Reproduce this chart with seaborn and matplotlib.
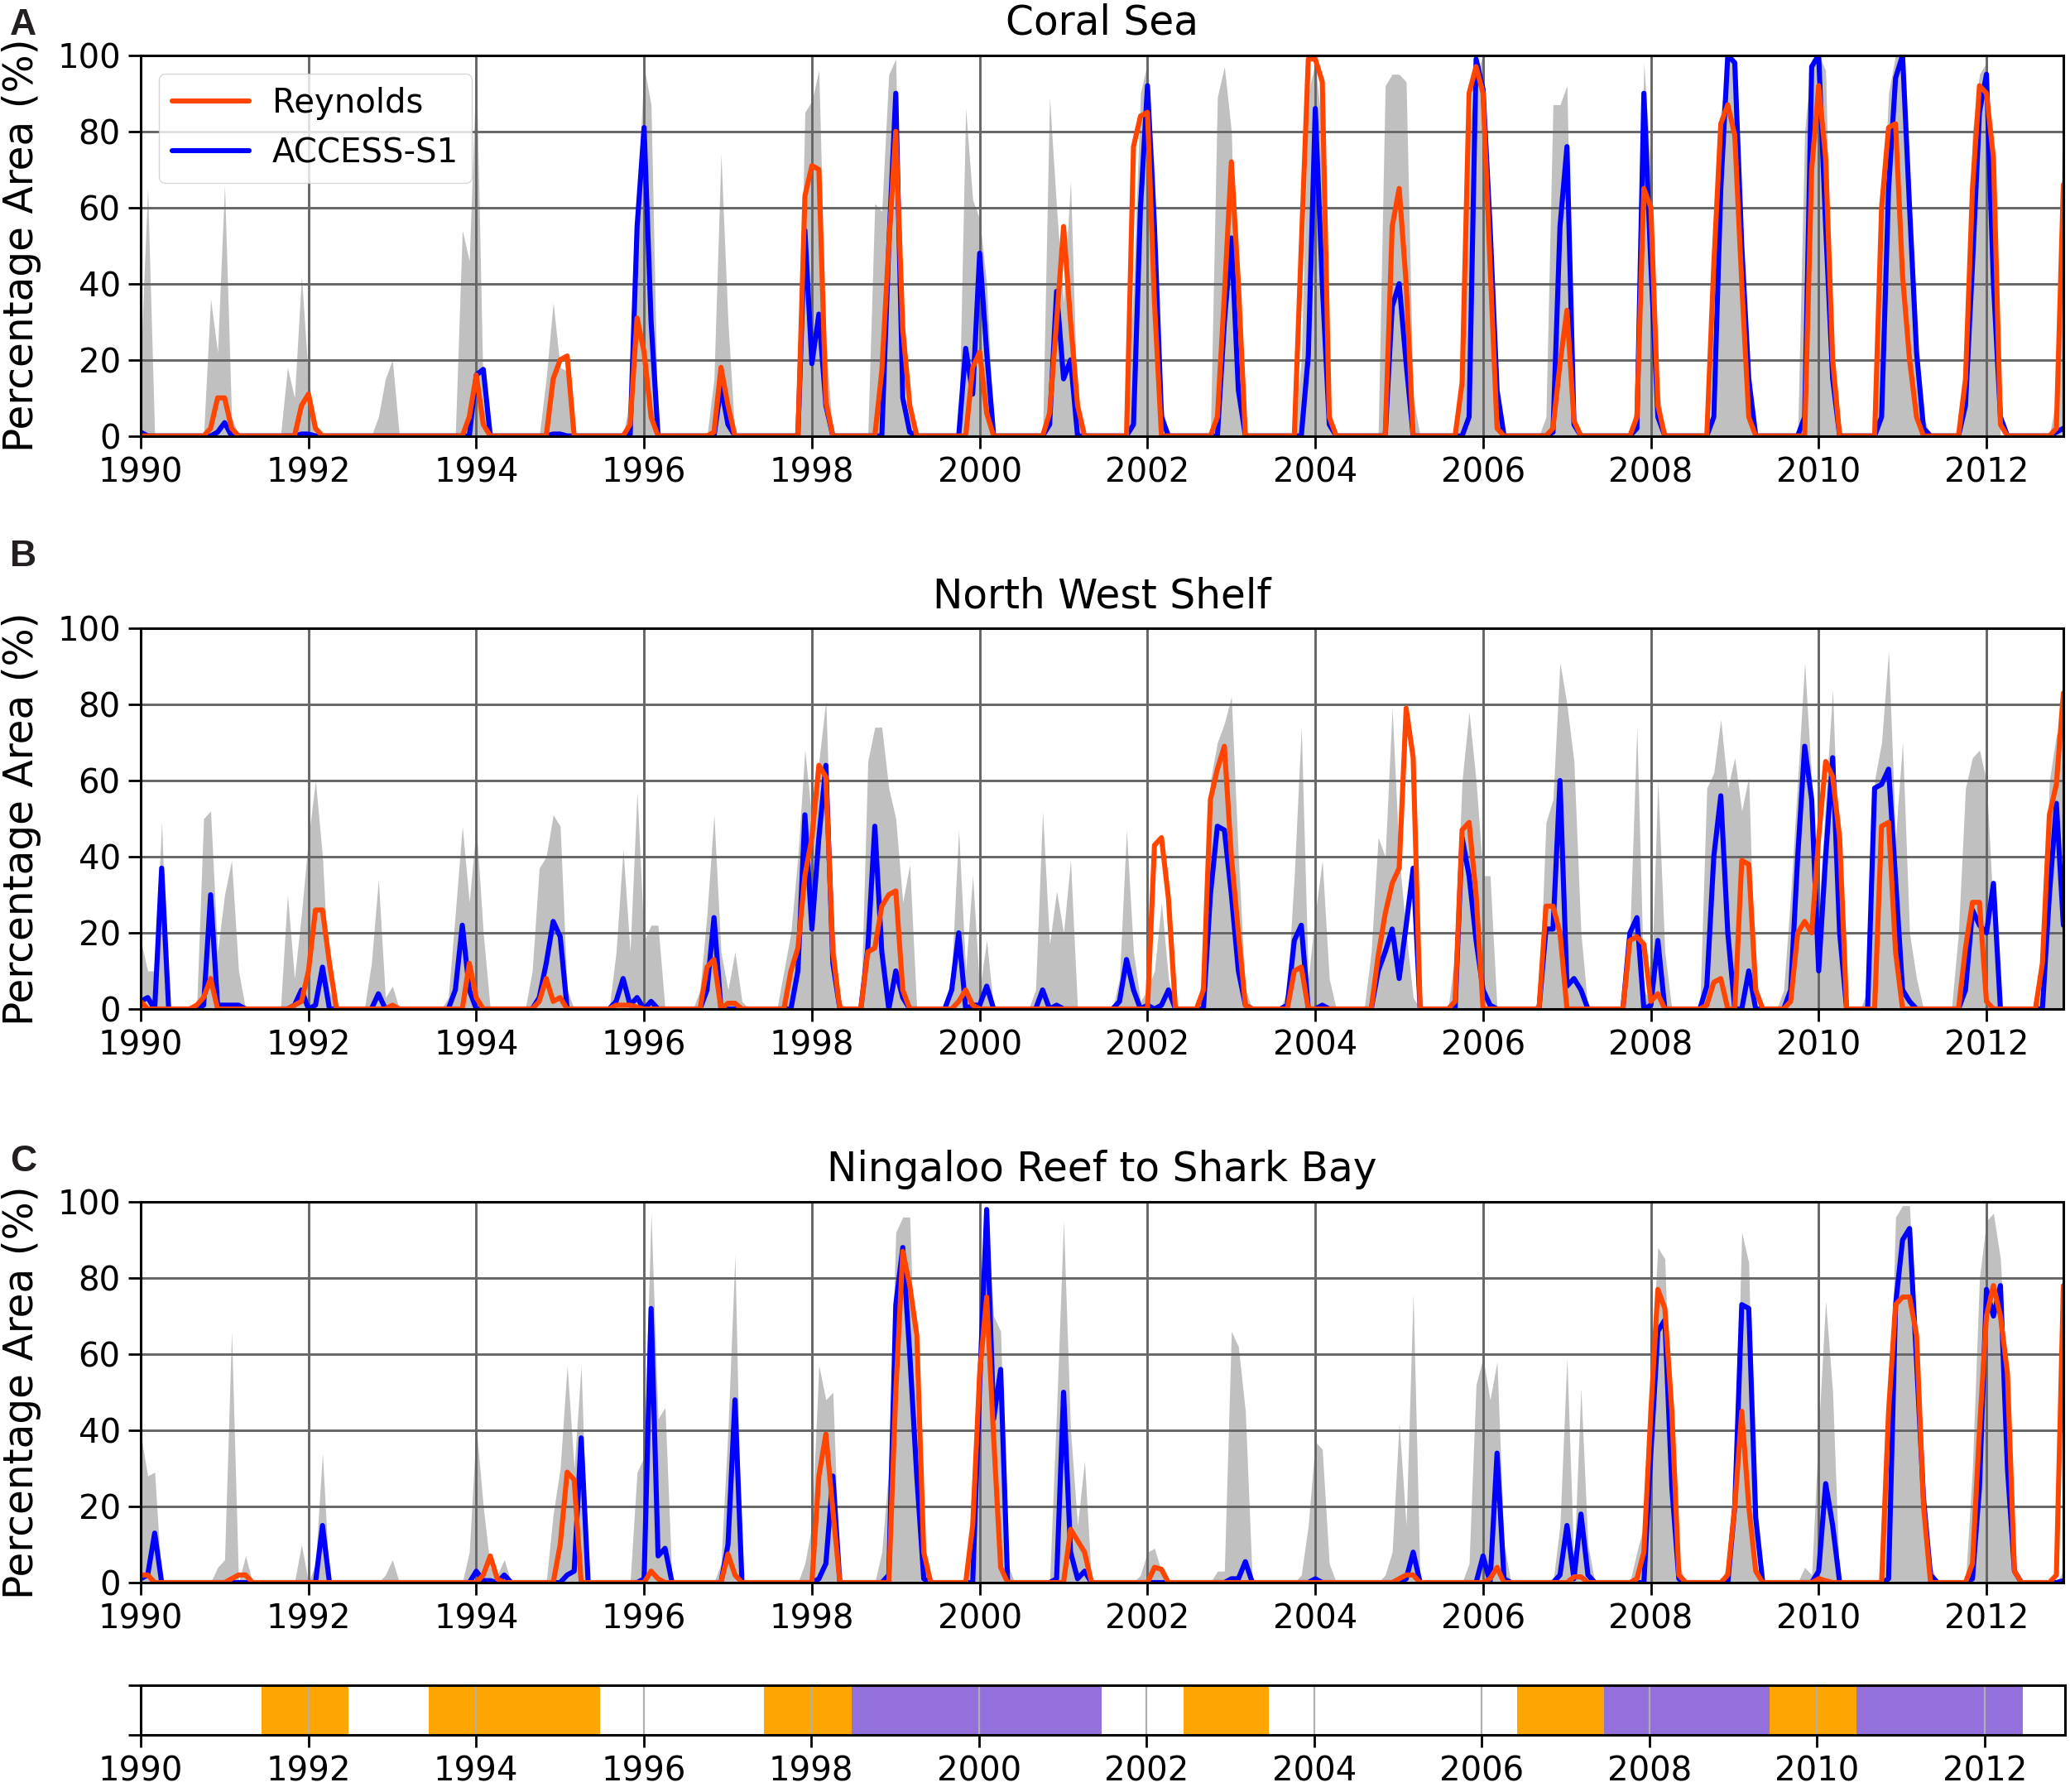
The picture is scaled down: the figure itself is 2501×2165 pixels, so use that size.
import numpy as np
import pandas as pd
import matplotlib
matplotlib.use("Agg")
import matplotlib.pyplot as plt
import seaborn as sns

sns.set_style("ticks")
plt.rcParams["font.family"] = ["DejaVu Sans"]
plt.rcParams["axes.axisbelow"] = "line"
plt.rcParams["text.color"] = "black"
plt.rcParams["axes.labelcolor"] = "black"
plt.rcParams["xtick.color"] = "black"
plt.rcParams["ytick.color"] = "black"
plt.rcParams["axes.edgecolor"] = "black"

# ---------------- data (monthly, Jan 1990 .. Dec 2012, one row per year) -------------
years = list(range(1990, 2013))
titles = ["Coral Sea", "North West Shelf", "Ningaloo Reef to Shark Bay"]
panel_letters = ["A", "B", "C"]

coral_reynolds = [
    [0,0,0,0,0,0,0,0,0,0,2,10], [10,2,0,0,0,0,0,0,0,0,0,8], [11,2,0,0,0,0,0,0,0,0,0,0],
    [0,0,0,0,0,0,0,0,0,0,0,5], [16,3,0,0,0,0,0,0,0,0,0,15], [20,21,0,0,0,0,0,0,0,0,3,31],
    [22,5,0,0,0,0,0,0,0,0,1,18], [8,0,0,0,0,0,0,0,0,0,0,63], [71,70,9,0,0,0,0,0,0,0,17,50],
    [80,28,8,0,0,0,0,0,0,0,0,18], [22,6,0,0,0,0,0,0,0,0,6,30], [55,30,8,0,0,0,0,0,0,0,76,84],
    [85,35,0,0,0,0,0,0,0,0,5,37], [72,40,0,0,0,0,0,0,0,0,50,99], [99,93,5,0,0,0,0,0,0,0,0,55],
    [65,40,0,0,0,0,0,0,0,14,90,97], [90,45,2,0,0,0,0,0,0,0,2,19], [33,4,0,0,0,0,0,0,0,0,5,65],
    [60,8,0,0,0,0,0,0,0,45,82,87], [79,40,5,0,0,0,0,0,0,0,0,70], [92,73,20,0,0,0,0,0,0,60,81,82],
    [42,20,5,0,0,0,0,0,0,15,65,92], [90,73,3,0,0,0,0,0,0,0,2,66],
]
coral_access = [
    [1,0,0,0,0,0,0,0,0,0,0,1], [3.5,0,0,0,0,0,0,0,0,0,0,0.5], [0.5,0,0,0,0,0,0,0,0,0,0,0],
    [0,0,0,0,0,0,0,0,0,0,0,0], [16,17.5,0,0,0,0,0,0,0,0,0,0.5], [0.5,0,0,0,0,0,0,0,0,0,0,55],
    [81,30,0,0,0,0,0,0,0,0,0,13], [3,0,0,0,0,0,0,0,0,0,0,54], [19,32,8,0,0,0,0,0,0,0,0,50],
    [90,10,1,0,0,0,0,0,0,0,23,11], [48,22,0,0,0,0,0,0,0,0,3,38], [15,20,0,0,0,0,0,0,0,0,3,60],
    [92,55,5,0,0,0,0,0,0,0,0,30], [52,12,0,0,0,0,0,0,0,0,0,21], [86,40,3,0,0,0,0,0,0,0,0,34],
    [40,19,0,0,0,0,0,0,0,0,5,99], [91,55,12,0,0,0,0,0,0,0,1,55], [76,3,0,0,0,0,0,0,0,0,2,90],
    [45,5,0,0,0,0,0,0,0,5,65,100], [98,50,15,0,0,0,0,0,0,0,5,97], [100,55,15,0,0,0,0,0,0,5,65,94],
    [100,60,22,2,0,0,0,0,0,8,45,85], [95,40,5,0,0,0,0,0,0,0,1,2],
]
coral_ens_max = [
    [20,65,0,0,0,0,0,0,0,0,36,22], [66,5,0,0,0,0,0,0,0,18,10,42], [15,3,0,0,0,0,0,0,0,0,5,15],
    [20,0,0,0,0,0,0,0,0,0,54,46], [98,10,0,0,0,0,0,0,0,0,15,35], [18,17,0,0,0,0,0,0,0,0,10,60],
    [97,87,0,0,0,0,0,0,0,0,15,74], [30,0,0,0,0,0,0,0,0,0,2,85], [88,96,25,0,0,0,0,0,0,61,59,95],
    [99,10,0,0,0,0,0,0,0,0,86,62], [57,40,0,0,0,0,0,0,0,0,89,60], [35,67,5,0,0,0,0,0,0,0,40,90],
    [98,70,10,0,0,0,0,0,0,0,89,97], [80,15,0,0,0,0,0,0,0,0,20,90], [98,80,5,0,0,0,0,0,0,0,92,95],
    [95,93,10,0,0,0,0,0,0,10,80,95], [100,60,15,0,0,0,0,0,0,5,87,87], [92,5,0,0,0,0,0,0,0,0,10,98],
    [70,15,0,0,0,0,0,0,0,5,85,99], [97,40,5,0,0,0,0,0,0,0,80,99], [100,96,20,0,0,0,0,0,0,50,90,100],
    [100,70,20,5,0,0,0,0,0,20,80,95], [98,30,0,0,0,0,0,0,0,0,10,88],
]

nws_reynolds = [
    [2,0,0,0,0,0,0,0,1,3,8,0], [0,0,0,0,0,0,0,0,0,0,1,2], [10,26,26,12,0,0,0,0,0,0,0,0],
    [1,0,0,0,0,0,0,0,0,0,0,12], [3,0,0,0,0,0,0,0,0,2,8,2], [3,0,0,0,0,0,0,0,1,1,1,0.5],
    [0,0,0,0,0,0,0,0,0,11,13,0], [1.5,1.5,0,0,0,0,0,0,0,10,16,35], [45,64,61,15,0,0,0,0,15,16,27,30],
    [31,5,0,0,0,0,0,0,0,2,5,1], [0,0,0,0,0,0,0,0,0,0,0,0], [0,0,0,0,0,0,0,0,0,0,0,0],
    [0,43,45,29,0,0,0,0,5,55,63,69], [40,20,1,0,0,0,0,0,0,10,11,0], [0,0,0,0,0,0,0,0,0,14,25,33],
    [37,79,66,0,0,0,0,0,2,47,49,30], [0,0,0,0,0,0,0,0,0,27,27,20], [0,0,0,0,0,0,0,0,0,18,19,17],
    [2,4,0,0,0,0,0,0,1,7,8,0], [0,39,38,5,0,0,0,0,2,20,23,20], [45,65,61,45,0,0,0,0,0,48,49,15],
    [0,0,0,0,0,0,0,0,0,16,28,28], [2,0,0,0,0,0,0,0,12,51,59,83],
]
nws_access = [
    [2,3,0,37,0,0,0,0,0,1,30,1], [1,1,1,0,0,0,0,0,0,0,1,5], [0,1,11,0,0,0,0,0,0,0,4,0],
    [0,0,0,0,0,0,0,0,0,5,22,5], [0,0,0,0,0,0,0,0,0,3,12,23], [19,0,0,0,0,0,0,0,2,8,1,3],
    [0,2,0,0,0,0,0,0,0,5,24,0], [0,0,0,0,0,0,0,0,0,0,10,51], [21,45,64,12,0,0,0,0,16,48,15,0],
    [10,3,0,0,0,0,0,0,5,20,0,1], [1,6,0,0,0,0,0,0,0,5,0,1], [0,0,0,0,0,0,0,0,2,13,5,0],
    [1,0,1,5,0,0,0,0,0,30,48,47], [30,10,1,0,0,0,0,0,1,18,22,0], [0,1,0,0,0,0,0,0,0,10,15,21],
    [8,22,37,0,0,0,0,0,0,45,35,18], [5,1,0,0,0,0,0,0,0,21,21,60], [6,8,5,0,0,0,0,0,0,20,24,0],
    [1,18,0,0,0,0,0,0,6,40,56,20], [0,0,10,0,0,0,0,0,5,40,69,55], [10,40,66,20,0,0,0,0,58,59,63,34],
    [5,2,0,0,0,0,0,0,0,5,26,22], [20,33,0,0,0,0,0,0,0,30,54,22],
]
nws_ens_max = [
    [18,10,10,49,0,0,0,0,0,50,52,15], [30,39,10,0,0,0,0,0,0,30,8,25], [45,60,40,5,0,0,0,0,0,12,34,3],
    [6,0,0,0,0,0,0,0,3,25,48,28], [48,20,0,0,0,0,0,0,10,37,40,51], [48,5,0,0,0,0,0,0,15,42,15,57],
    [18,22,22,0,0,0,0,0,5,25,51,15], [5,15,2,0,0,0,0,0,10,20,40,68], [50,65,81,25,2,0,0,0,65,74,74,58],
    [50,28,38,0,0,0,0,0,10,47,10,35], [5,18,0,0,0,0,0,0,5,52,17,31], [20,39,0,0,0,0,0,0,8,47,15,2],
    [5,10,28,8,0,0,0,0,10,60,70,75], [82,40,5,0,0,0,0,0,5,35,74,8], [25,39,8,0,0,0,0,0,15,45,40,79],
    [40,20,3,0,0,0,0,0,15,60,78,60], [35,35,0,0,0,0,0,0,2,49,55,91], [80,65,20,0,0,0,0,0,0,20,74,5],
    [2,60,15,0,0,0,0,0,58,62,76,58], [66,52,61,0,0,0,0,5,30,60,91,60], [25,55,84,30,0,0,0,5,60,70,94,45],
    [70,20,8,0,0,0,0,0,20,58,66,68], [60,25,0,0,0,0,0,0,5,60,72,75],
]

ning_reynolds = [
    [2,2,0,0,0,0,0,0,0,0,0,0], [0,1,2,2,0,0,0,0,0,0,0,0], [0,0,0,0,0,0,0,0,0,0,0,0],
    [0,0,0,0,0,0,0,0,0,0,0,0], [0,2,7,1,0,0,0,0,0,0,0,0], [10,29,27,0,0,0,0,0,0,0,0,0],
    [0,3,1,0,0,0,0,0,0,0,0,0], [7.5,2,0,0,0,0,0,0,0,0,0,0], [0,28,39,19,0,0,0,0,0,0,0,0],
    [50,87,78,65,8,0,0,0,0,0,0,15], [55,75,38,4,0,0,0,0,0,0,0,0], [0,14,11,8,0,0,0,0,0,0,0,0],
    [0,4,3.5,0,0,0,0,0,0,0,0,0], [0,0,0,0,0,0,0,0,0,0,0,0], [0,0,0,0,0,0,0,0,0,0,0,0],
    [1,2,2,0,0,0,0,0,0,0,0,0], [0,1,4,0,0,0,0,0,0,0,0,0], [0,1.5,1.5,0,0,0,0,0,0,0,1,8],
    [45,77,72,45,2,0,0,0,0,0,0,2], [20,45,20,3,0,0,0,0,0,0,0,0], [1,0.5,0,0,0,0,0,0,0,0,45,73],
    [75,75,65,20,0,0,0,0,0,0,5,40], [70,78,70,55,3,0,0,0,0,0,2,78],
]
ning_access = [
    [1,2,13,0,0,0,0,0,0,0,0,0], [0,0,0,0,0,0,0,0,0,0,0,0], [0,0,15,0,0,0,0,0,0,0,0,0],
    [0,0,0,0,0,0,0,0,0,0,0,0], [3,0.5,0.5,0,2,0,0,0,0,0,0,0], [0,2,3,38,0,0,0,0,0,0,0,0],
    [1,72,7,9,0,0,0,0,0,0,0,0], [10,48,0,0,0,0,0,0,0,0,0,0], [0,1,5,28,0,0,0,0,0,0,0,2],
    [73,88,60,28,1,0,0,0,0,0,0,0], [52,98,43,56,0,0,0,0,0,0,0,1], [50,8,1,3,0,0,0,0,0,0,0,0],
    [0,0,0,0,0,0,0,0,0,0,0,0], [1,1,5.5,0,0,0,0,0,0,0,0,0], [1,0,0,0,0,0,0,0,0,0,0,0],
    [0,1,8,0,0,0,0,0,0,0,0,0], [7,0,34,1,0,0,0,0,0,0,0,2], [15,1,18,2,0,0,0,0,0,0,0,0],
    [34,66,69,25,1,0,0,0,0,0,0,0], [20,73,72,17,0,0,0,0,0,0,0,0], [3,26,15,0,0,0,0,0,0,0,1,73],
    [90,93,58,22,2,0,0,0,0,0,1,25], [77,70,78,30,3,0,0,0,0,0,0,0.5],
]
ning_ens_max = [
    [39,28,29,0,0,0,0,0,0,0,0,4], [6,66,0,7,0,0,0,0,0,0,0,10], [0,5,34,0,0,0,0,0,0,0,0,2],
    [6,0,0,0,0,0,0,0,0,0,0,8], [41,20,4,2,6,0,0,0,0,0,0,18], [30,57,30,57,0,0,0,0,0,0,0,29],
    [33,97,43,46,0,0,0,0,0,0,0,5], [40,86,0,0,0,0,0,0,0,0,0,5], [15,57,48,50,0,0,0,0,0,0,8,30],
    [92,96,96,40,5,0,0,0,0,0,0,15], [55,98,70,66,5,0,0,0,0,0,0,45], [95,40,15,32,0,0,0,0,0,0,0,2],
    [8,9,3,0,0,0,0,0,0,0,3,3], [66,62,45,0,0,0,0,0,0,0,2,15], [37,35,5,0,0,0,0,0,0,0,2,8],
    [42,15,76,0,0,0,0,0,0,0,5,52], [59,48,58,10,0,0,0,0,0,0,0,15], [59,5,51,10,0,0,0,0,0,0,8,15],
    [55,88,85,30,5,0,0,0,0,0,0,5], [25,92,84,5,0,0,0,0,0,0,4,2], [40,74,50,0,0,0,0,0,0,0,30,96],
    [99,99,60,25,5,0,0,0,0,0,30,80], [95,97,85,50,5,0,0,0,0,0,0,3],
]

# ENSO phases (decimal years)
enso_start = [1991.44, 1993.44, 1997.44, 1998.48, 2002.44, 2006.42, 2007.46, 2009.43, 2010.47]
enso_end   = [1992.48, 1995.48, 1998.48, 2001.47, 2003.46, 2007.46, 2009.43, 2010.47, 2012.46]
enso_phase = ["El Nino", "El Nino", "El Nino", "La Nina", "El Nino",
              "El Nino", "La Nina", "El Nino", "La Nina"]
enso_colors = {"El Nino": "#ffa500", "La Nina": "#9370db"}

# ---------------- build ----------------
def flat(rows):
    return [v for r in rows for v in r]

t = np.array([y + m / 12.0 for y in years for m in range(12)])

panels = [
    (coral_ens_max, coral_reynolds, coral_access),
    (nws_ens_max, nws_reynolds, nws_access),
    (ning_ens_max, ning_reynolds, ning_access),
]

W, H = 2501, 2165
fig = plt.figure(figsize=(W / 100, H / 100), dpi=100)

left = 170 / W
width = (2493 - 170) / W
tops = [66.7, 759, 1452]
bottoms = [526.7, 1219, 1912]

TICK = 29
ORANGE = "#ff4500"
BLUE = "#0000ff"
LW = 4.4

letter_y = [10, 652, 1383]

for i, (ens, rey, acc) in enumerate(panels):
    ax = fig.add_axes([left, 1 - bottoms[i] / H, width, (bottoms[i] - tops[i]) / H])
    ax.fill_between(t, 0, flat(ens), color="#c0c0c0", lw=0, zorder=1)
    df_acc = pd.DataFrame({"t": t, "v": flat(acc)})
    df_rey = pd.DataFrame({"t": t, "v": flat(rey)})
    sns.lineplot(data=df_acc, x="t", y="v", color=BLUE, lw=LW, ax=ax,
                 label="ACCESS-S1", estimator=None, errorbar=None, zorder=2.1)
    sns.lineplot(data=df_rey, x="t", y="v", color=ORANGE, lw=LW, ax=ax,
                 label="Reynolds", estimator=None, errorbar=None, zorder=2.2)
    ax.set_xlim(1990, 2012 + 11 / 12)
    ax.set_ylim(0, 100)
    ax.set_xticks(range(1990, 2013, 2))
    ax.set_yticks(range(0, 101, 20))
    ax.grid(True, color="#666666", lw=2.1)
    ax.set_xlabel("")
    ax.set_ylabel("Percentage Area (%)", fontsize=35, labelpad=14, color="black")
    ax.set_title(titles[i], fontsize=35, pad=18, color="black")
    ax.tick_params(length=10.5, width=2, pad=7, labelsize=TICK, colors="black")
    for s in ax.spines.values():
        s.set_linewidth(2.2)
        s.set_color("black")
    h, l = ax.get_legend_handles_labels()
    if i == 0:
        order = [l.index("Reynolds"), l.index("ACCESS-S1")]
        leg = ax.legend([h[k] for k in order], [l[k] for k in order], loc="upper left",
                        fontsize=TICK, handlelength=2.3, handletextpad=0.7, borderaxespad=0.55)
        for txt in leg.get_texts():
            txt.set_color("black")
    else:
        ax.get_legend().remove()
    fig.text(12 / W, 1 - letter_y[i] / H, panel_letters[i], fontsize=32,
             fontweight="bold", family=["Liberation Sans", "DejaVu Sans"],
             color="#231f20", ha="left", va="top")

# ENSO strip
axs = fig.add_axes([170 / W, 1 - 2096 / H, (2495 - 170) / W, 60 / H])
for s, e, p in zip(enso_start, enso_end, enso_phase):
    axs.axvspan(s, e, color=enso_colors[p], lw=0, zorder=1)
axs.set_xlim(1990, 2012.96)
axs.set_ylim(0, 1)
axs.set_yticks([0, 1])
axs.set_yticklabels([])
axs.set_xticks(range(1990, 2013, 2))
axs.grid(True, axis="x", color="#b0b0b0", lw=1.6)
axs.tick_params(length=10.5, width=2, pad=7, labelsize=TICK, colors="black")
for s in axs.spines.values():
    s.set_linewidth(2.2)
    s.set_color("black")

fig.savefig("out.png", dpi=100)
